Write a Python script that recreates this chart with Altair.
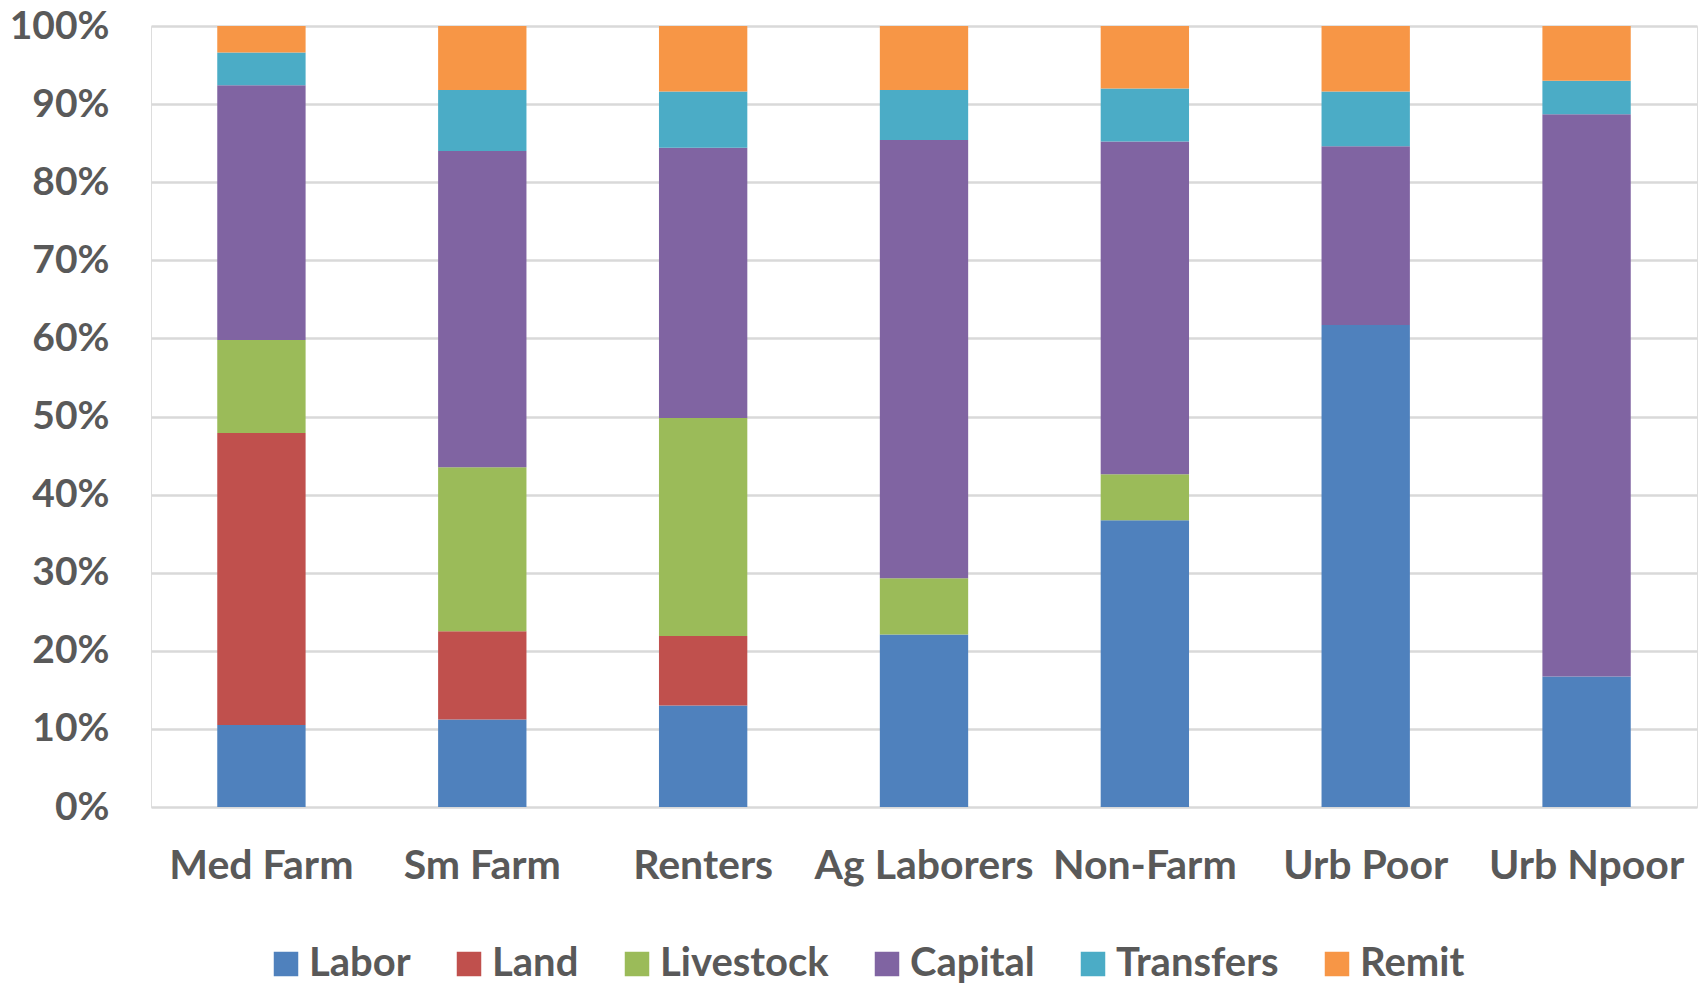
import altair as alt
import pandas as pd

categories = ["Med Farm", "Sm Farm", "Renters", "Ag Laborers", "Non-Farm", "Urb Poor", "Urb Npoor"]
series = ["Labor", "Land", "Livestock", "Capital", "Transfers", "Remit"]
colors = ["#4F81BD", "#C0504D", "#9BBB59", "#8064A2", "#4BACC6", "#F79646"]

labor = [10.5, 11.2, 13.0, 22.1, 36.7, 61.7, 16.7]
land = [37.4, 11.3, 8.9, 0.0, 0.0, 0.0, 0.0]
livestock = [11.9, 21.0, 27.9, 7.2, 5.9, 0.0, 0.0]
capital = [32.6, 40.5, 34.6, 56.1, 42.6, 22.9, 72.0]
transfers = [4.2, 7.8, 7.2, 6.4, 6.8, 7.0, 4.3]
remit = [3.4, 8.2, 8.4, 8.2, 8.0, 8.4, 7.0]

values = [labor, land, livestock, capital, transfers, remit]
rows = []
for si, (name, vals) in enumerate(zip(series, values)):
    for ci, cat in enumerate(categories):
        rows.append({"group": cat, "source": name, "value": vals[ci], "order": si})
df = pd.DataFrame(rows)

FONT = "Lato"
GREY = "#595959"

chart = alt.Chart(df).mark_bar().encode(
    x=alt.X("group:N", sort=categories, title=None,
            scale=alt.Scale(paddingInner=0.6, paddingOuter=0.3),
            axis=alt.Axis(labelAngle=0, ticks=False, tickSize=0, domain=False, grid=False,
                          labelFont=FONT, labelFontSize=41, labelFontWeight="bold",
                          labelColor=GREY, labelBaseline="alphabetic", labelPadding=71,
                          labelLimit=400, labelOverlap=False)),
    y=alt.Y("value:Q", stack="normalize", title=None,
            scale=alt.Scale(domain=[0, 1], nice=False),
            axis=alt.Axis(format=".0%", values=[i / 10 for i in range(11)],
                          ticks=False, tickSize=0, domain=False, grid=True,
                          gridColor="#D9D9D9", gridWidth=2.5,
                          labelFont=FONT, labelFontSize=39, labelFontWeight="bold",
                          labelColor=GREY, labelPadding=42, labelBaseline="middle",
                          labelLimit=400)),
    color=alt.Color("source:N", sort=series,
                    scale=alt.Scale(domain=series, range=colors),
                    legend=alt.Legend(title=None, orient="none", direction="horizontal",
                                      legendX=115, legendY=918, padding=0,
                                      symbolType="square", symbolSize=600,
                                      symbolStrokeWidth=0, labelOffset=3,
                                      columnPadding=38, columns=6, labelLimit=400,
                                      labelFont=FONT, labelFontSize=40,
                                      labelFontWeight="bold", labelColor=GREY)),
    order=alt.Order("order:Q", sort="ascending"),
).properties(
    width=1546, height=781,
    autosize=alt.AutoSizeParams(type="none"),
    padding={"left": 151, "top": 26, "right": 8, "bottom": 177},
).configure_view(stroke=None).configure(background="white")

chart.save("out.html", embed_options={"renderer": "svg", "actions": False})
